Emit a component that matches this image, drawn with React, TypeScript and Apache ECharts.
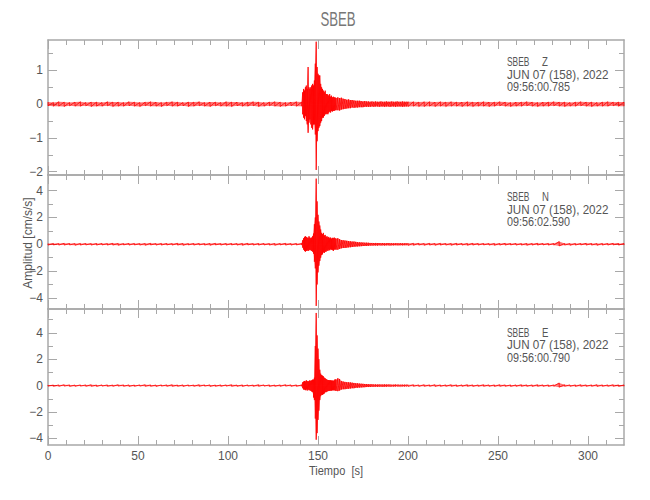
import React, { useEffect, useRef } from "react";
import * as echarts from "echarts";

// ---------- sample times (s) ----------
const tPre = [0, 3, 6, 9, 12, 15, 18, 21, 24, 27, 30, 33, 36, 39, 42, 45, 48, 51, 54, 57, 60, 63, 66, 69, 72, 75, 78, 81, 84, 87, 90, 93, 96, 99, 102, 105, 108, 111, 114, 117, 120, 123, 126, 129, 132, 135, 138];
const tOnset = [141, 141.5, 142, 142.5, 143, 143.5, 144, 144.5, 145, 145.5, 146, 146.5, 147, 147.5, 148, 148.5, 149, 149.5, 150, 150.5, 151, 151.5, 152, 152.5, 153, 153.5, 154, 154.5, 155, 155.5, 156, 156.5, 157, 157.5, 158, 158.5, 159, 159.5, 160];
const tCoda = [161, 162, 163, 164, 165, 166, 167, 168, 169, 170, 171, 172, 173, 174, 175, 176, 177, 178, 179, 180, 181, 182, 183, 184, 185, 186, 187, 188, 189, 190, 191, 192, 193, 194, 195, 196, 197, 198, 199, 200];
const tPost = [203, 206, 209, 212, 215, 218, 221, 224, 227, 230, 233, 236, 239, 242, 245, 248, 251, 254, 257, 260, 263, 266, 269, 272, 275, 278, 281, 284, 287, 290, 293, 296, 299, 302, 305, 308, 311, 314, 317, 320];
const times = [...tPre, ...tOnset, ...tCoda, ...tPost];

// ---------- Z component: upper / lower envelope (cm/s/s) ----------
const zHigh = [
  0.06, 0.05, 0.07, 0.06, 0.05, 0.06, 0.07, 0.05, 0.06, 0.06, 0.05, 0.07, 0.06, 0.06, 0.05, 0.07, 0.06, 0.05, 0.06, 0.07, 0.06, 0.05, 0.06, 0.07, 0.06, 0.05, 0.06, 0.06, 0.07, 0.05, 0.06, 0.06, 0.05, 0.07, 0.06, 0.06, 0.05, 0.06, 0.07, 0.06, 0.05, 0.06, 0.07, 0.06, 0.05, 0.06, 0.07,
  0.06, 0.35, 0.45, 0.4, 0.5, 0.55, 0.45, 1.1, 0.5, 0.45, 0.5, 0.55, 0.6, 0.55, 0.7, 1.2, 1.85, 1.1, 0.9, 0.85, 0.85, 0.6, 0.5, 0.45, 0.4, 0.35, 0.4, 0.3, 0.3, 0.28, 0.25, 0.3, 0.22, 0.25, 0.2, 0.22, 0.2, 0.2, 0.18,
  0.2, 0.18, 0.19, 0.16, 0.15, 0.13, 0.14, 0.12, 0.12, 0.11, 0.1, 0.1, 0.1, 0.09, 0.08, 0.09, 0.08, 0.08, 0.07, 0.08, 0.07, 0.08, 0.07, 0.07, 0.08, 0.07, 0.07, 0.08, 0.07, 0.07, 0.08, 0.07, 0.07, 0.08, 0.07, 0.07, 0.08, 0.07, 0.07, 0.07,
  0.07, 0.06, 0.07, 0.07, 0.06, 0.07, 0.06, 0.07, 0.06, 0.06, 0.07, 0.06, 0.06, 0.07, 0.06, 0.06, 0.07, 0.06, 0.05, 0.06, 0.06, 0.07, 0.06, 0.05, 0.06, 0.06, 0.07, 0.06, 0.06, 0.05, 0.06, 0.07, 0.06, 0.06, 0.05, 0.06, 0.07, 0.06, 0.06, 0.06,
];
const zLow = [
  -0.05, -0.06, -0.06, -0.07, -0.05, -0.06, -0.06, -0.05, -0.07, -0.06, -0.06, -0.05, -0.07, -0.06, -0.06, -0.05, -0.06, -0.07, -0.05, -0.06, -0.06, -0.07, -0.05, -0.06, -0.06, -0.05, -0.07, -0.06, -0.05, -0.06, -0.07, -0.05, -0.06, -0.06, -0.07, -0.05, -0.06, -0.06, -0.05, -0.07, -0.06, -0.05, -0.06, -0.07, -0.06, -0.05, -0.06,
  -0.06, -0.3, -0.4, -0.45, -0.35, -0.5, -0.6, -0.85, -0.55, -0.45, -0.6, -0.7, -0.75, -0.6, -0.6, -0.9, -1.95, -1.1, -0.8, -0.7, -0.65, -0.55, -0.5, -0.4, -0.4, -0.35, -0.3, -0.3, -0.28, -0.3, -0.25, -0.22, -0.25, -0.2, -0.22, -0.2, -0.2, -0.18, -0.18,
  -0.18, -0.19, -0.16, -0.15, -0.14, -0.13, -0.12, -0.12, -0.1, -0.11, -0.1, -0.1, -0.09, -0.09, -0.09, -0.08, -0.08, -0.08, -0.08, -0.07, -0.08, -0.07, -0.07, -0.08, -0.07, -0.07, -0.08, -0.07, -0.07, -0.08, -0.07, -0.07, -0.08, -0.07, -0.07, -0.07, -0.08, -0.07, -0.07, -0.07,
  -0.06, -0.07, -0.07, -0.06, -0.07, -0.06, -0.07, -0.06, -0.06, -0.07, -0.06, -0.07, -0.06, -0.06, -0.07, -0.06, -0.05, -0.06, -0.07, -0.06, -0.06, -0.05, -0.06, -0.07, -0.06, -0.06, -0.05, -0.06, -0.07, -0.06, -0.06, -0.05, -0.06, -0.07, -0.06, -0.06, -0.06, -0.05, -0.06, -0.06,
];

// ---------- N component ----------
const nHigh = [
  0.05, 0.06, 0.05, 0.07, 0.06, 0.05, 0.06, 0.06, 0.05, 0.06, 0.06, 0.05, 0.07, 0.06, 0.05, 0.06, 0.06, 0.05, 0.06, 0.07, 0.05, 0.06, 0.06, 0.05, 0.07, 0.06, 0.05, 0.06, 0.06, 0.05, 0.06, 0.07, 0.05, 0.06, 0.06, 0.05, 0.06, 0.07, 0.05, 0.06, 0.06, 0.05, 0.06, 0.06, 0.07, 0.05, 0.06,
  0.06, 0.3, 0.45, 0.55, 0.6, 0.55, 0.5, 0.45, 0.6, 0.5, 0.45, 0.5, 0.6, 0.8, 1.5, 2.0, 4.9, 3.2, 2.2, 1.7, 1.4, 1.1, 0.85, 0.75, 0.85, 0.65, 0.7, 0.55, 0.6, 0.5, 0.55, 0.45, 0.5, 0.42, 0.48, 0.45, 0.5, 0.45, 0.42,
  0.45, 0.38, 0.32, 0.3, 0.28, 0.26, 0.24, 0.22, 0.2, 0.2, 0.18, 0.16, 0.15, 0.14, 0.13, 0.12, 0.12, 0.11, 0.1, 0.1, 0.09, 0.1, 0.09, 0.09, 0.08, 0.09, 0.08, 0.08, 0.09, 0.08, 0.08, 0.07, 0.08, 0.08, 0.07, 0.08, 0.07, 0.07, 0.08, 0.07,
  0.07, 0.07, 0.06, 0.07, 0.06, 0.07, 0.06, 0.06, 0.07, 0.06, 0.06, 0.07, 0.06, 0.06, 0.05, 0.06, 0.06, 0.07, 0.06, 0.06, 0.05, 0.06, 0.06, 0.07, 0.06, 0.06, 0.06, 0.2, 0.06, 0.05, 0.06, 0.06, 0.07, 0.06, 0.05, 0.06, 0.06, 0.07, 0.06, 0.06,
];
const nLow = [
  -0.06, -0.05, -0.06, -0.06, -0.05, -0.07, -0.06, -0.05, -0.06, -0.06, -0.05, -0.06, -0.06, -0.07, -0.05, -0.06, -0.05, -0.06, -0.07, -0.05, -0.06, -0.06, -0.05, -0.06, -0.06, -0.07, -0.05, -0.06, -0.05, -0.06, -0.07, -0.05, -0.06, -0.06, -0.05, -0.06, -0.07, -0.05, -0.06, -0.06, -0.05, -0.06, -0.07, -0.05, -0.06, -0.06, -0.05,
  -0.06, -0.25, -0.4, -0.5, -0.55, -0.5, -0.45, -0.5, -0.45, -0.4, -0.45, -0.5, -0.55, -0.7, -1.3, -1.8, -4.6, -3.0, -2.1, -1.6, -1.25, -1.0, -0.8, -0.75, -0.6, -0.65, -0.55, -0.55, -0.45, -0.5, -0.4, -0.45, -0.38, -0.4, -0.42, -0.5, -0.4, -0.38, -0.4,
  -0.4, -0.35, -0.3, -0.28, -0.27, -0.25, -0.23, -0.22, -0.2, -0.18, -0.17, -0.16, -0.15, -0.14, -0.13, -0.12, -0.12, -0.11, -0.1, -0.1, -0.09, -0.09, -0.1, -0.08, -0.09, -0.08, -0.09, -0.08, -0.08, -0.09, -0.08, -0.08, -0.07, -0.08, -0.08, -0.07, -0.08, -0.07, -0.07, -0.08,
  -0.07, -0.06, -0.07, -0.06, -0.07, -0.06, -0.06, -0.07, -0.06, -0.06, -0.07, -0.06, -0.06, -0.05, -0.06, -0.07, -0.06, -0.06, -0.05, -0.06, -0.06, -0.07, -0.06, -0.06, -0.05, -0.06, -0.06, -0.12, -0.06, -0.07, -0.06, -0.05, -0.06, -0.06, -0.07, -0.06, -0.06, -0.05, -0.06, -0.06,
];

// ---------- E component ----------
const eHigh = [
  0.05, 0.04, 0.05, 0.06, 0.05, 0.04, 0.05, 0.05, 0.06, 0.04, 0.05, 0.05, 0.04, 0.06, 0.05, 0.05, 0.04, 0.05, 0.06, 0.05, 0.04, 0.05, 0.05, 0.06, 0.04, 0.05, 0.05, 0.04, 0.06, 0.05, 0.05, 0.04, 0.05, 0.05, 0.06, 0.04, 0.05, 0.05, 0.04, 0.06, 0.05, 0.05, 0.04, 0.05, 0.06, 0.05, 0.05,
  0.05, 0.25, 0.3, 0.35, 0.3, 0.4, 0.35, 0.3, 0.35, 0.4, 0.35, 0.4, 0.45, 0.45, 0.6, 3.0, 5.5, 3.8, 2.8, 2.0, 1.2, 0.9, 0.8, 0.75, 0.7, 0.6, 0.55, 0.5, 0.45, 0.42, 0.42, 0.4, 0.4, 0.38, 0.38, 0.36, 0.4, 0.48, 0.45,
  0.55, 0.5, 0.35, 0.3, 0.28, 0.26, 0.25, 0.24, 0.22, 0.2, 0.18, 0.17, 0.15, 0.14, 0.13, 0.12, 0.12, 0.11, 0.1, 0.1, 0.09, 0.09, 0.08, 0.09, 0.08, 0.08, 0.09, 0.08, 0.08, 0.08, 0.07, 0.07, 0.08, 0.07, 0.07, 0.07, 0.06, 0.07, 0.07, 0.06,
  0.06, 0.05, 0.06, 0.05, 0.06, 0.05, 0.05, 0.06, 0.05, 0.05, 0.06, 0.05, 0.05, 0.06, 0.05, 0.05, 0.06, 0.05, 0.05, 0.05, 0.06, 0.05, 0.05, 0.06, 0.05, 0.05, 0.05, 0.2, 0.06, 0.05, 0.05, 0.06, 0.05, 0.05, 0.06, 0.05, 0.05, 0.06, 0.05, 0.05,
];
const eLow = [
  -0.04, -0.05, -0.05, -0.04, -0.06, -0.05, -0.04, -0.05, -0.05, -0.06, -0.04, -0.05, -0.05, -0.04, -0.05, -0.06, -0.05, -0.04, -0.05, -0.05, -0.06, -0.04, -0.05, -0.05, -0.05, -0.06, -0.04, -0.05, -0.05, -0.04, -0.06, -0.05, -0.05, -0.04, -0.05, -0.05, -0.06, -0.04, -0.05, -0.05, -0.04, -0.06, -0.05, -0.05, -0.04, -0.05, -0.05,
  -0.05, -0.2, -0.3, -0.3, -0.35, -0.3, -0.38, -0.3, -0.35, -0.35, -0.4, -0.45, -0.5, -0.9, -1.1, -2.5, -4.1, -3.6, -2.6, -1.9, -1.1, -0.8, -0.7, -0.7, -0.65, -0.6, -0.5, -0.5, -0.45, -0.42, -0.4, -0.4, -0.38, -0.38, -0.36, -0.36, -0.35, -0.38, -0.4,
  -0.42, -0.38, -0.3, -0.28, -0.27, -0.25, -0.24, -0.22, -0.2, -0.2, -0.17, -0.16, -0.15, -0.14, -0.13, -0.12, -0.11, -0.11, -0.1, -0.09, -0.09, -0.08, -0.09, -0.08, -0.08, -0.09, -0.08, -0.08, -0.07, -0.08, -0.07, -0.07, -0.07, -0.06, -0.07, -0.07, -0.06, -0.07, -0.06, -0.06,
  -0.05, -0.06, -0.05, -0.05, -0.06, -0.05, -0.05, -0.05, -0.06, -0.05, -0.05, -0.06, -0.05, -0.05, -0.05, -0.06, -0.05, -0.05, -0.06, -0.05, -0.05, -0.05, -0.06, -0.05, -0.05, -0.06, -0.05, -0.12, -0.05, -0.05, -0.06, -0.05, -0.05, -0.05, -0.06, -0.05, -0.05, -0.05, -0.06, -0.05,
];

// ---------- axes / labels ----------
const xMajorTicks = [0, 50, 100, 150, 200, 250, 300];
const xMinorTicks = [10, 20, 30, 40, 60, 70, 80, 90, 110, 120, 130, 140, 160, 170, 180, 190, 210, 220, 230, 240, 260, 270, 280, 290, 310];
const xMin = 0;
const xMax = 320;

const componentNames = ["Z", "N", "E"];
const yMins = [-2.1, -4.83, -4.5];
const yMaxs = [1.9, 5.17, 5.8];
const yMajorTicks = [[-2, -1, 0, 1], [-4, -2, 0, 2, 4], [-4, -2, 0, 2, 4]];
const yMinorTicks = [[-1.5, -0.5, 0.5, 1.5], [-3, -1, 1, 3], [-3, -1, 1, 3, 5]];
const highs = [zHigh, nHigh, eHigh];
const lows = [zLow, nLow, eLow];

const stationName = "SBEB";
const dateLabel = "JUN 07 (158), 2022";
const startTimes = ["09:56:00.785", "09:56:02.590", "09:56:00.790"];
const chartTitle = "SBEB";
const xAxisName = "Tiempo  [s]";
const yAxisName = "Amplitud [cm/s/s]";

// ---------- styling ----------
const FONT = "'Liberation Sans', Arial, sans-serif";
const AXIS_COLOR = "#a8a8a8";
const LABEL_COLOR = "#555555";
const TRACE_COLOR = "#ff0000";
const gridTops = [40, 175, 309];
const gridHeights = [135, 134, 136];
const GRID_LEFT = 48;
const GRID_RIGHT = 26;
const annotTops = [62, 197, 332.5];
const LINE_GAP = 12.5;

const fmtNum = (v: number) => (v < 0 ? "\u2212" + Math.abs(v) : String(v));

function mkX(gi: number, pos: string, ticks: number[], len: number, line: boolean, labels: boolean) {
  return {
    type: "value",
    gridIndex: gi,
    position: pos,
    min: xMin,
    max: xMax,
    axisLine: { show: line, onZero: false, lineStyle: { color: AXIS_COLOR, width: 1.5 } },
    axisTick: { show: true, inside: true, length: len, customValues: ticks, lineStyle: { color: AXIS_COLOR, width: 1 } },
    axisLabel: { show: labels, customValues: ticks, margin: 5, color: LABEL_COLOR, fontFamily: FONT, fontSize: 12, formatter: fmtNum },
    splitLine: { show: false },
    minorTick: { show: false },
  };
}
function mkY(gi: number, pos: string, ticks: number[], len: number, line: boolean, labels: boolean) {
  return {
    type: "value",
    gridIndex: gi,
    position: pos,
    min: yMins[gi],
    max: yMaxs[gi],
    axisLine: { show: line, onZero: false, lineStyle: { color: AXIS_COLOR, width: 1.5 } },
    axisTick: { show: true, inside: true, length: len, customValues: ticks, lineStyle: { color: AXIS_COLOR, width: 1 } },
    axisLabel: { show: labels, customValues: ticks, margin: 5, color: LABEL_COLOR, fontFamily: FONT, fontSize: 12, formatter: fmtNum },
    splitLine: { show: false },
    minorTick: { show: false },
  };
}

function txt(x: number, y: number, text: string, size: number, sx: number, align: string, color: string, rotation = 0) {
  return {
    type: "text",
    x,
    y,
    scaleX: sx,
    rotation,
    style: { text, fill: color, fontFamily: FONT, fontSize: size, lineHeight: size, align, verticalAlign: "middle" },
  };
}

export default function App() {
  const ref = useRef<HTMLDivElement>(null);
  useEffect(() => {
    if (!ref.current) return;
    const chart = echarts.init(ref.current, null, { renderer: "svg", width: 650, height: 500 });
    const grid: any[] = [];
    const xAxis: any[] = [];
    const yAxis: any[] = [];
    const series: any[] = [];
    const graphic: any[] = [];
    for (let p = 0; p < 3; p++) {
      grid.push({ left: GRID_LEFT, right: GRID_RIGHT, top: gridTops[p], height: gridHeights[p], containLabel: false, outerBoundsMode: "none" });
      xAxis.push(mkX(p, "bottom", xMajorTicks, 9, true, p === 2));
      xAxis.push(mkX(p, "top", xMajorTicks, 9, true, false));
      xAxis.push(mkX(p, "bottom", xMinorTicks, 5, false, false));
      xAxis.push(mkX(p, "top", xMinorTicks, 5, false, false));
      yAxis.push(mkY(p, "left", yMajorTicks[p], 9, true, true));
      yAxis.push(mkY(p, "right", yMajorTicks[p], 9, true, false));
      yAxis.push(mkY(p, "left", yMinorTicks[p], 5, false, false));
      yAxis.push(mkY(p, "right", yMinorTicks[p], 5, false, false));
      const n = Math.min(times.length, highs[p].length, lows[p].length);
      const trace: number[][] = [];
      const upper: number[][] = [];
      const lower: number[][] = [];
      for (let i = 0; i < n; i++) {
        trace.push([times[i], highs[p][i]]);
        trace.push([times[i], lows[p][i]]);
        upper.push([times[i], highs[p][i]]);
        lower.push([times[i], lows[p][i]]);
      }
      const common = { type: "line", xAxisIndex: p * 4, yAxisIndex: p * 4, symbol: "none", showSymbol: false, clip: false, silent: true };
      series.push({ ...common, data: upper, lineStyle: { opacity: 0, width: 0 }, areaStyle: { color: TRACE_COLOR, opacity: 0.55, origin: 0 }, z: 1 });
      series.push({ ...common, data: lower, lineStyle: { opacity: 0, width: 0 }, areaStyle: { color: TRACE_COLOR, opacity: 0.55, origin: 0 }, z: 1 });
      series.push({ ...common, data: trace, lineStyle: { color: TRACE_COLOR, width: 0.8 }, z: 2 });
      const ty = annotTops[p];
      graphic.push(txt(507, ty, stationName, 12, 0.7, "left", LABEL_COLOR));
      graphic.push(txt(542, ty, componentNames[p], 12, 0.8, "left", LABEL_COLOR));
      graphic.push(txt(507, ty + LINE_GAP, dateLabel, 12, 0.97, "left", LABEL_COLOR));
      graphic.push(txt(507, ty + 2 * LINE_GAP, startTimes[p], 12, 0.9, "left", LABEL_COLOR));
    }
    graphic.push(txt(338, 20, chartTitle, 20, 0.66, "center", "#777777"));
    graphic.push(txt(336, 471, xAxisName, 12, 0.92, "center", LABEL_COLOR));
    graphic.push(txt(28, 243, yAxisName, 12, 1, "center", LABEL_COLOR, Math.PI / 2));

    chart.setOption({
      animation: false,
      backgroundColor: "#ffffff",
      grid,
      xAxis,
      yAxis,
      series,
      graphic,
    });
    return () => chart.dispose();
  }, []);
  return <div ref={ref} style={{ position: "fixed", left: 0, top: 0, width: 650, height: 500 }} />;
}
